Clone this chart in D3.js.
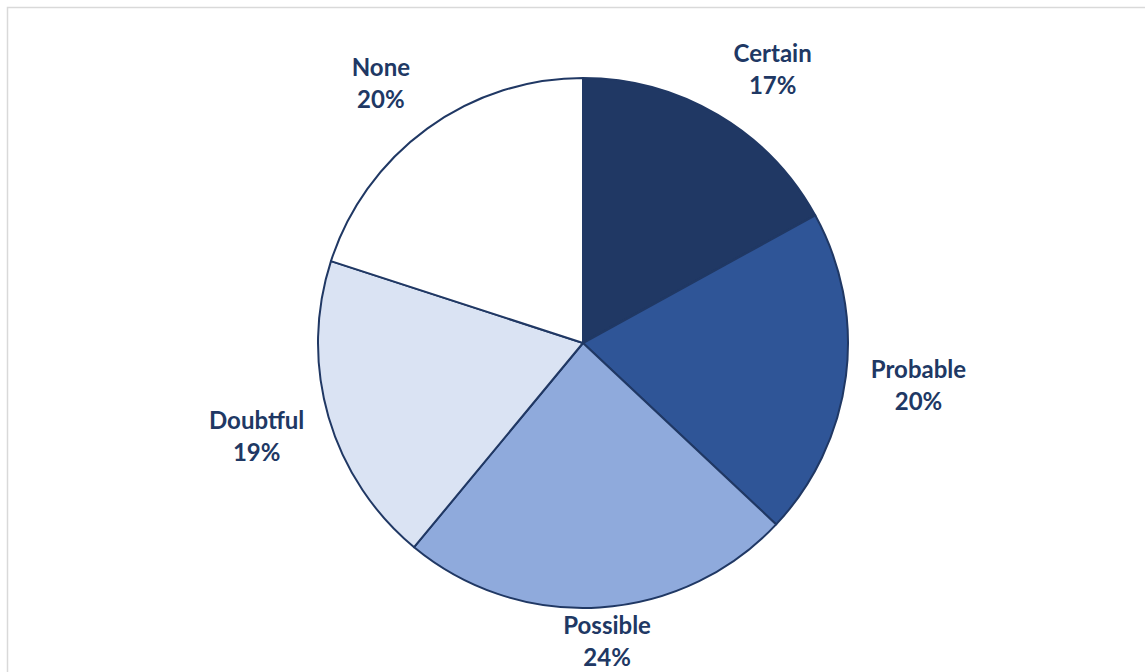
<!DOCTYPE html>
<html>
<head>
<meta charset="utf-8">
<script src="https://cdn.jsdelivr.net/npm/d3@7"></script>
<style>
  html, body { margin: 0; padding: 0; background: #ffffff; }
  svg { display: block; }
</style>
</head>
<body>
<svg id="chart" width="1145" height="672"></svg>
<script>
// Likelihood categories and their shares (percent)
const categories = ["Certain", "Probable", "Possible", "Doubtful", "None"];
const shares = [17, 20, 24, 19, 20];
const fills = ["#203864", "#2f5597", "#8faadc", "#dae3f3", "#ffffff"];

const W = 1145, H = 672;
const cx = 583, cy = 343, radius = 265;
const ink = "#203864";

const svg = d3.select("#chart");

// Chart-area frame
svg.append("rect")
  .attr("x", 7.5).attr("y", 7.5)
  .attr("width", W).attr("height", H)
  .attr("fill", "#ffffff")
  .attr("stroke", "#d9d9d9")
  .attr("stroke-width", 1.5);

const rows = categories.map((c, i) => ({ name: c, value: shares[i], fill: fills[i] }));

const pie = d3.pie().value(d => d.value).sort(null);
const arc = d3.arc().innerRadius(0).outerRadius(radius);
const arcs = pie(rows);
const total = d3.sum(shares);

const g = svg.append("g").attr("transform", `translate(${cx},${cy})`);

g.selectAll("path.slice")
  .data(arcs)
  .join("path")
  .attr("class", "slice")
  .attr("d", arc)
  .attr("fill", d => d.data.fill)
  .attr("stroke", ink)
  .attr("stroke-width", 2)
  .attr("stroke-linejoin", "round");

// Data labels placed just outside the rim, boxed toward their slice's mid-angle
const gap = 19, lineGap = 32, padX = 12;
const clamp = v => Math.max(-1, Math.min(1, v));

const labels = g.selectAll("text.lbl")
  .data(arcs)
  .join("text")
  .attr("class", "lbl")
  .attr("font-family", "Lato, 'Open Sans', sans-serif")
  .attr("font-weight", 700)
  .attr("font-size", 24)
  .attr("fill", ink)
  .attr("text-anchor", "middle");

labels.append("tspan")
  .attr("x", 0).attr("dy", 0)
  .text(d => d.data.name);
labels.append("tspan")
  .attr("x", 0).attr("dy", lineGap)
  .text(d => Math.round(d.data.value / total * 100) + "%");

labels.each(function(d) {
  const el = d3.select(this);
  const box = this.getBBox();
  const w = box.width + padX, h = box.height;
  const mid = (d.startAngle + d.endAngle) / 2;
  const s = Math.sin(mid), c = Math.cos(mid);
  const ax = (radius + gap) * s;
  const ay = -(radius + gap) * c;
  const bx = ax + (w / 2) * clamp(2 * s);
  let by = ay - (h / 2) * clamp(1.6 * c);
  // keep the label box inside the drawing area
  const maxY = H - cy - h / 2 - 1;
  by = Math.min(by, maxY);
  // shift so the box centre lands on (bx, by)
  const offY = by - (box.y + box.height / 2);
  el.attr("transform", `translate(${bx},${offY})`);
});
</script>
</body>
</html>
